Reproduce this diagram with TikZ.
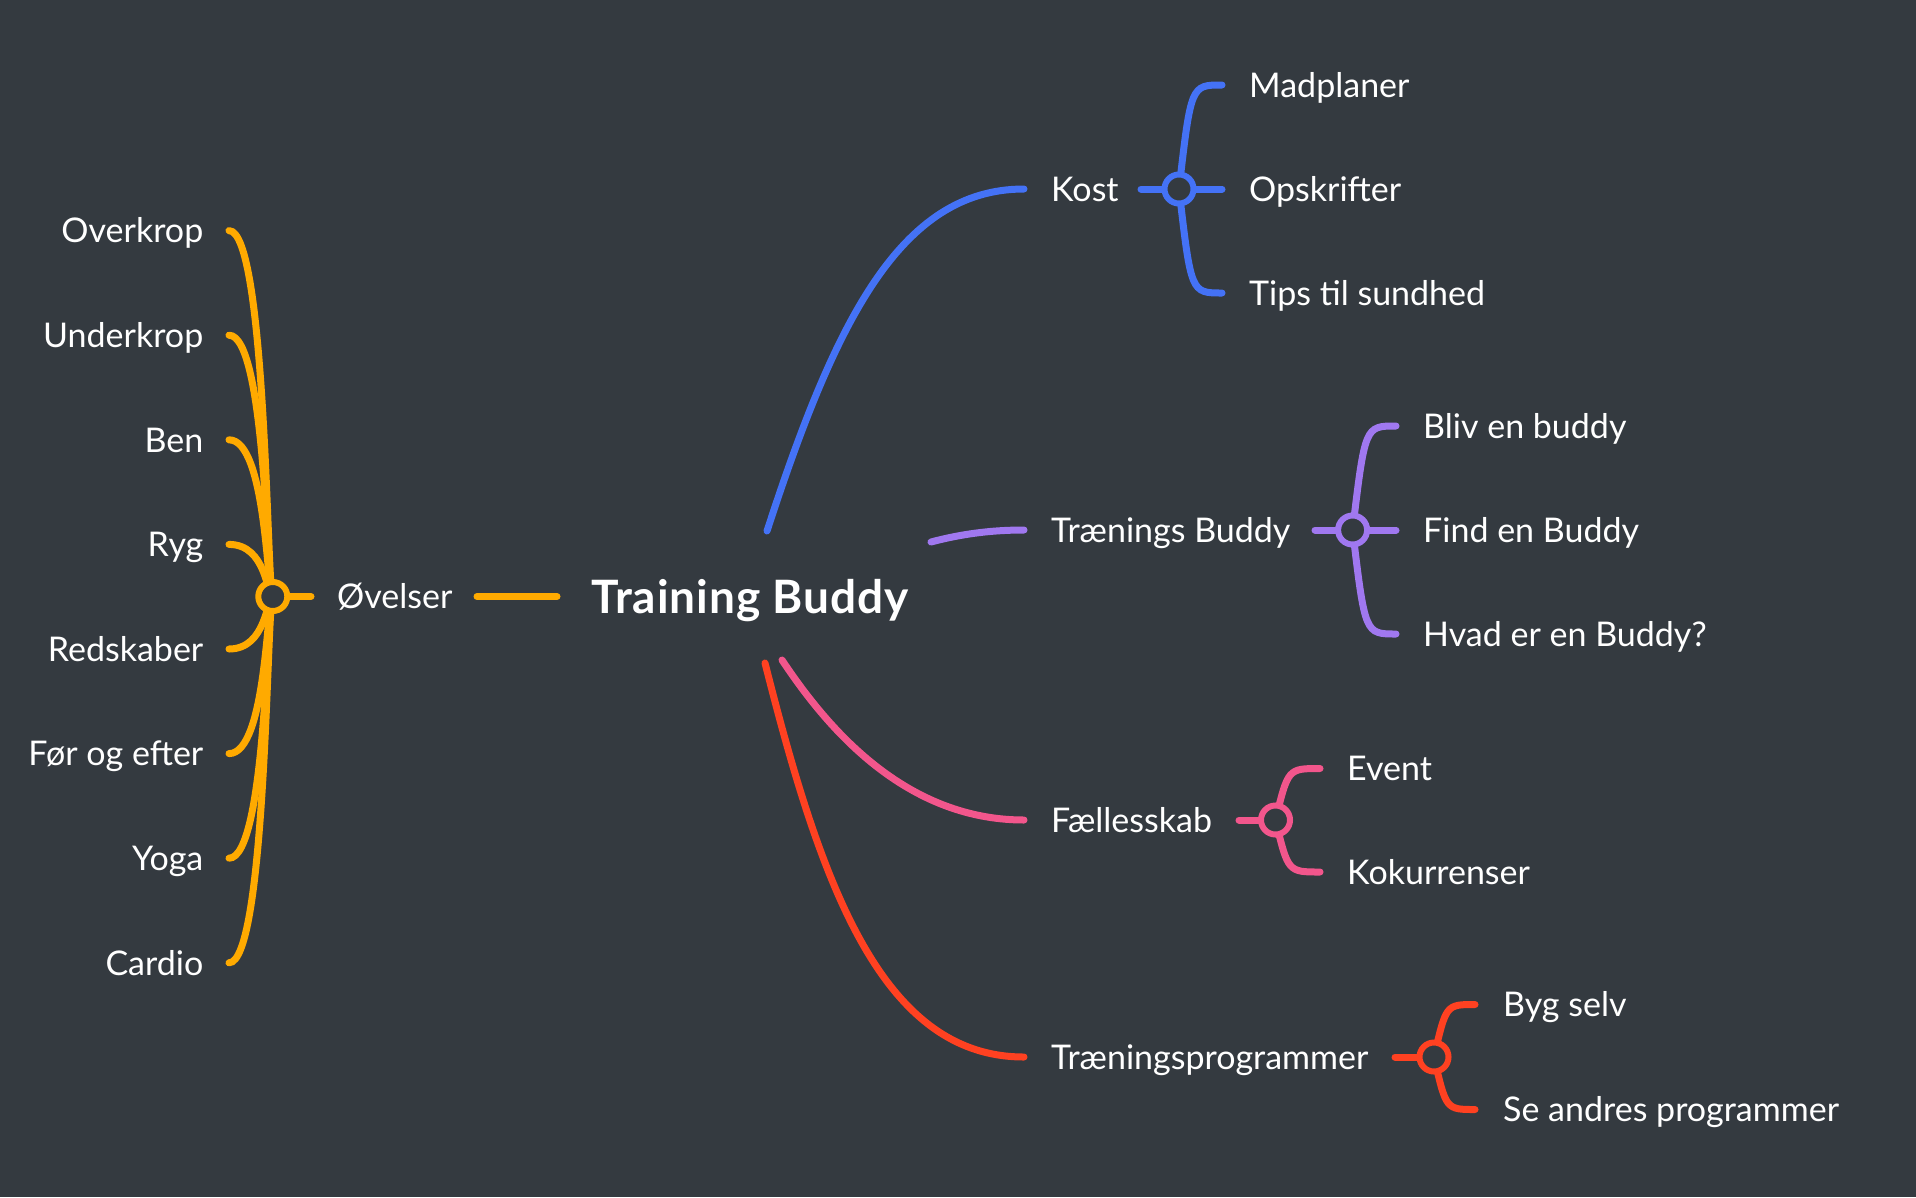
\documentclass[tikz,border=0pt]{standalone}
\usepackage{fontspec}
\setmainfont{Lato}
\definecolor{bg}{HTML}{343A40}
\definecolor{corange}{HTML}{FFAA00}
\definecolor{cblue}{HTML}{4472F6}
\definecolor{cpurple}{HTML}{A078F0}
\definecolor{cpink}{HTML}{F2568C}
\definecolor{cred}{HTML}{FF4121}
\begin{document}
\begin{tikzpicture}[x=1pt,y=-1pt,
  conn/.style={line width=7pt, line cap=round},
  lbl/.style={text=white, font=\fontsize{34}{40}\selectfont, inner sep=0pt, text height=24.4pt, text depth=0pt},
  title/.style={text=white, font=\fontsize{46}{52}\selectfont\bfseries\addfontfeatures{LetterSpace=2}, inner sep=0pt, text height=33pt, text depth=0pt},
  hub/.style={circle, minimum size=29pt, inner sep=0pt, line width=6pt, fill=bg}]
\fill[bg] (0,0) rectangle (1916,1197);
\useasboundingbox (0,0) rectangle (1916,1197);

% central
\node[title, anchor=west] (tb) at (591,596.5) {Training Buddy};

% ---------- Øvelser (left)
\node[lbl, anchor=west] (ov) at (337,596.5) {Øvelser};
\coordinate (ovL) at (477,596.5);
\coordinate (tbL) at (557,596.5);
\draw[conn, corange] (ovL) -- (tbL);
\coordinate (hO) at (272.8,596.5);
\coordinate (hOs) at (311,596.5);
\draw[conn, corange] (hO) -- (hOs);
\foreach \n/\t/\y in {o1/Overkrop/230.6, o2/Underkrop/335.2, o3/Ben/439.8, o4/Ryg/544.4,
                      o5/Redskaber/649.0, o6/Før og efter/753.6, o7/Yoga/858.2, o8/Cardio/962.8}{
  \node[lbl, anchor=east] (\n) at (203.5,\y) {\t};
  \coordinate (\n e) at (229,\y);
  \draw[conn, corange] (\n e) .. controls (266.8,\y) and (266.8,596.5) .. (hO);
}
\node[hub, draw=corange] (hubO) at (hO) {};

% ---------- Kost (blue)
\coordinate (bK0) at (767,531);
\coordinate (bK1) at (1024,189);
\draw[conn, cblue] (bK0) .. controls (835,322) and (900,189) .. (bK1);
\node[lbl, anchor=west] (kost) at (1051,189) {Kost};
\coordinate (hK) at (1179,189);
\coordinate (hKs) at (1141,189);
\draw[conn, cblue] (hKs) -- (hK);
\coordinate (k1e) at (1222,85);
\coordinate (k2e) at (1222,189);
\coordinate (k3e) at (1222,293);
\draw[conn, cblue] (hK) .. controls (1191,85) .. (k1e);
\draw[conn, cblue] (hK) -- (k2e);
\draw[conn, cblue] (hK) .. controls (1191,293) .. (k3e);
\node[hub, draw=cblue] (hubK) at (hK) {};
\node[lbl, anchor=west] (k1) at (1249,85) {Madplaner};
\node[lbl, anchor=west] (k2) at (1249,189) {Opskrifter};
\node[lbl, anchor=west] (k3) at (1249,293) {Tips til sundhed};

% ---------- Trænings Buddy (purple)
\coordinate (bP0) at (931,542);
\coordinate (bP1) at (1024,530);
\draw[conn, cpurple] (bP0) .. controls (965,533) and (995,530) .. (bP1);
\node[lbl, anchor=west] (tbud) at (1051,530) {Trænings Buddy};
\coordinate (hP) at (1352.6,530);
\coordinate (hPs) at (1315,530);
\draw[conn, cpurple] (hPs) -- (hP);
\coordinate (p1e) at (1396,426);
\coordinate (p2e) at (1396,530);
\coordinate (p3e) at (1396,634);
\draw[conn, cpurple] (hP) .. controls (1365,426) .. (p1e);
\draw[conn, cpurple] (hP) -- (p2e);
\draw[conn, cpurple] (hP) .. controls (1365,634) .. (p3e);
\node[hub, draw=cpurple] (hubP) at (hP) {};
\node[lbl, anchor=west] (p1) at (1423,426) {Bliv en buddy};
\node[lbl, anchor=west] (p2) at (1423,530) {Find en Buddy};
\node[lbl, anchor=west] (p3) at (1423,634) {Hvad er en Buddy?};

% ---------- Fællesskab (pink)
\coordinate (bF0) at (782,660);
\coordinate (bF1) at (1024,820);
\draw[conn, cpink] (bF0) .. controls (822,720) and (900,820) .. (bF1);
\node[lbl, anchor=west] (fael) at (1051,820) {Fællesskab};
\coordinate (hF) at (1275.5,820);
\coordinate (hFs) at (1239,820);
\draw[conn, cpink] (hFs) -- (hF);
\coordinate (f1e) at (1320,768.5);
\coordinate (f2e) at (1320,872);
\draw[conn, cpink] (hF) .. controls (1288,768.5) .. (f1e);
\draw[conn, cpink] (hF) .. controls (1288,872) .. (f2e);
\node[hub, draw=cpink] (hubF) at (hF) {};
\node[lbl, anchor=west] (f1) at (1347,768.5) {Event};
\node[lbl, anchor=west] (f2) at (1347,872) {Kokurrenser};

% ---------- Træningsprogrammer (red)
\coordinate (bR0) at (765,663);
\coordinate (bR1) at (1024,1057);
\draw[conn, cred] (bR0) .. controls (820,880) and (880,1057) .. (bR1);
\node[lbl, anchor=west] (tprog) at (1051,1057) {Træningsprogrammer};
\coordinate (hR) at (1434,1057);
\coordinate (hRs) at (1395,1057);
\draw[conn, cred] (hRs) -- (hR);
\coordinate (r1e) at (1475,1004.5);
\coordinate (r2e) at (1475,1109.5);
\draw[conn, cred] (hR) .. controls (1446,1004.5) .. (r1e);
\draw[conn, cred] (hR) .. controls (1446,1109.5) .. (r2e);
\node[hub, draw=cred] (hubR) at (hR) {};
\node[lbl, anchor=west] (r1) at (1503,1004.5) {Byg selv};
\node[lbl, anchor=west] (r2) at (1503,1109.5) {Se andres programmer};
\end{tikzpicture}
\end{document}
